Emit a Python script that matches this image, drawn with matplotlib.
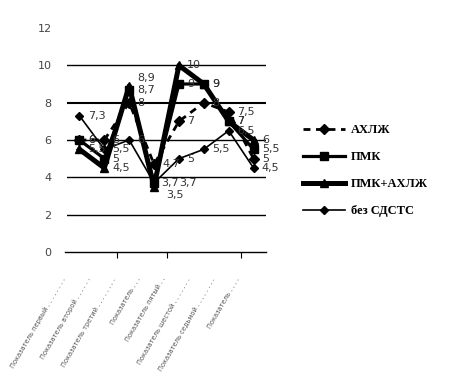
import matplotlib.pyplot as plt

# categories (labels illegible in the source scan)
categories = ['Показатель первый . . . . . . . .', 'Показатель второй . . . . . .',
              'Показатель третий . . . . . . . .', 'Показатель . . .',
              'Показатель пятый . .', 'Показатель шестой . . . . . . .',
              'Показатель седьмой . . . . . . . .', 'Показатель . . . .']
ahlzh = [6, 6, 8, 4.7, 7, 8, 7.5, 5]
pmk = [6, 5, 8.7, 3.7, 9, 9, 7, 5.5]
pmk_ahlzh = [5.5, 4.5, 8.9, 3.5, 10, 9, 7, 6]
bez = [7.3, 5.5, 6, 3.7, 5, 5.5, 6.5, 4.5]
yticks = [0, 2, 4, 6, 8, 10, 12]

fig = plt.figure(figsize=(4.59, 3.83), dpi=100)
ax = fig.add_axes([67 / 459, 1 - 252 / 383, 199 / 459, 224 / 383])

x = list(range(len(categories)))

ax.plot(x, ahlzh, color='black', lw=2, ls=(0, (2.5, 2)), marker='D', ms=5, label='АХЛЖ', zorder=4)
ax.plot(x, pmk, color='black', lw=2.3, marker='s', ms=6, label='ПМК', zorder=4)
ax.plot(x, pmk_ahlzh, color='black', lw=3.6, marker='^', ms=6, label='ПМК+АХЛЖ', zorder=3)
ax.plot(x, bez, color='black', lw=1.2, marker='D', ms=4, label='без СДСТС', zorder=5)

# small nudges for labels that would sit on top of each other
nudge = {('pa', 2): (6, 6), ('pa', 3): (9, -6), ('b', 3): (18, 0), ('p', 3): (5, 0)}
for key, series in (('a', ahlzh), ('p', pmk), ('pa', pmk_ahlzh), ('b', bez)):
    for xi, v in zip(x, series):
        ax.annotate(('%g' % v).replace('.', ','), (xi, v), xytext=nudge.get((key, xi), (6, 0)),
                    textcoords='offset points', ha='left', va='center',
                    fontsize=8, color='#333333', zorder=6)

for g in [2, 4, 6, 8, 10]:
    ax.axhline(g, color='black', lw=1.5 if g == 8 else 1, zorder=1)

ax.set_xlim(-0.5, 7.5)
ax.set_ylim(0, 12)
ax.set_yticks(yticks)
ax.set_yticklabels([str(t) for t in yticks], fontsize=8, color='#444444')
ax.tick_params(axis='y', length=0, pad=11)
for s in ['left', 'right', 'top']:
    ax.spines[s].set_visible(False)
ax.spines['bottom'].set_linewidth(1)
ax.spines['bottom'].set_bounds(-0.6, 7.5)

ax.set_xticks([1.5, 3.5, 6.5])
ax.set_xticklabels([])
ax.tick_params(axis='x', length=4, direction='out')

# rotated category labels (faint, like the scan)
for xi, lab in zip(x, categories):
    ax.text(xi - 0.5, -1.3, lab, rotation=60, ha='right', va='top',
            fontsize=4.8, color='#555555')

fig.legend(loc='upper left', bbox_to_anchor=(292 / 459, 1 - 113 / 383), frameon=False,
           handlelength=3.3, handletextpad=0.5, labelspacing=1.2,
           prop={'family': 'Liberation Serif', 'weight': 'bold', 'size': 9})

fig.savefig('out.png', dpi=100)
